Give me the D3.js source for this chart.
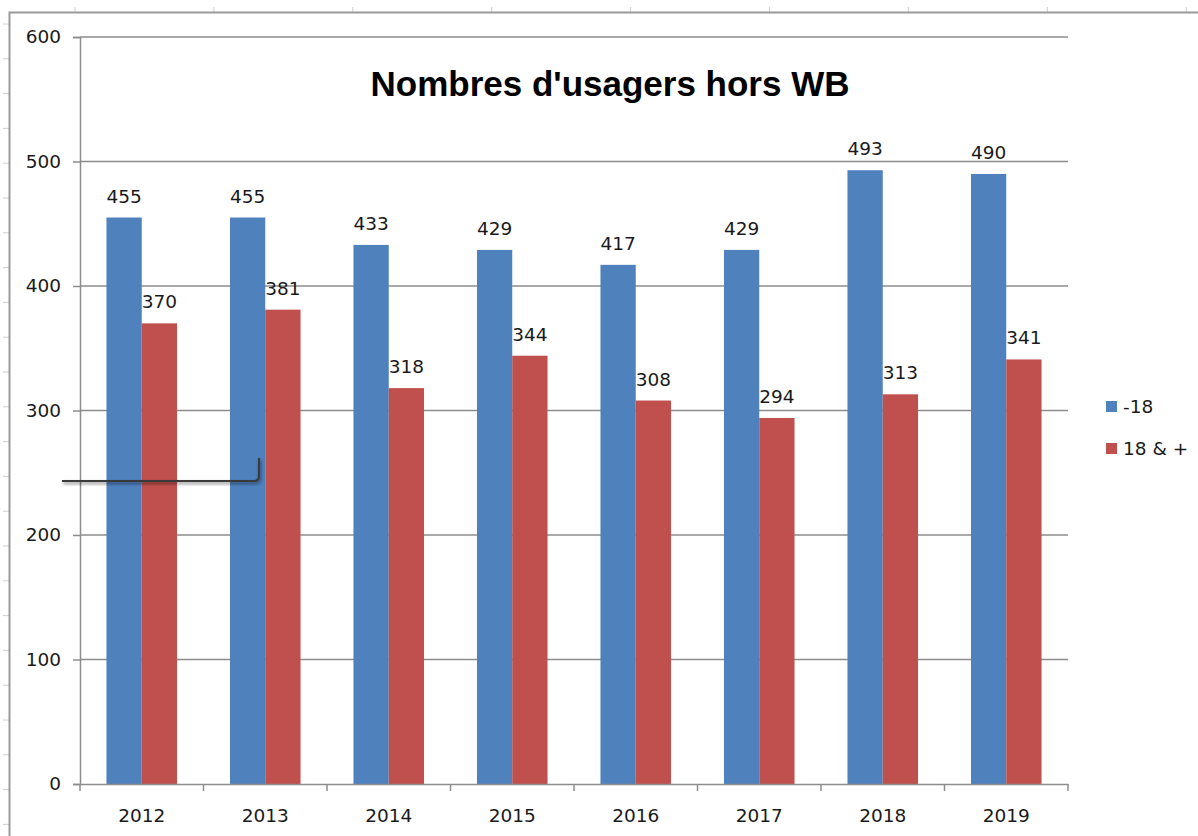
<!DOCTYPE html>
<html>
<head>
<meta charset="utf-8">
<script src="https://cdn.jsdelivr.net/npm/d3@7"></script>
<style>
  body { margin: 0; background: #fff; }
  svg { display: block; }
  .lbl { font-family: 'DejaVu Sans', sans-serif; font-size: 18.5px; fill: #1a1a1a; }
</style>
</head>
<body>
<svg id="chart"></svg>
<script>
const years = ['2012', '2013', '2014', '2015', '2016', '2017', '2018', '2019'];
const seriesNames = ['-18', '18 & +'];
const under18 = [455, 455, 433, 429, 417, 429, 493, 490];
const adults = [370, 381, 318, 344, 308, 294, 313, 341];
const yTicks = [0, 100, 200, 300, 400, 500, 600];
const colors = ['#4f81bd', '#c0504d'];

const W = 1198, H = 836;
const plot = { left: 80, right: 1068, top: 37, bottom: 784 };

const svg = d3.select('#chart').attr('width', W).attr('height', H);

// sheet frame + faint row/column marks
const frame = svg.append('g');
frame.selectAll('.colmark')
  .data(d3.range(75, W, 138.9))
  .enter().append('line')
  .attr('x1', d => d).attr('x2', d => d)
  .attr('y1', 7).attr('y2', 12)
  .attr('stroke', '#d0d0d0');
frame.selectAll('.rowmark')
  .data(d3.range(24, H, 34.8))
  .enter().append('line')
  .attr('x1', 3).attr('x2', 9)
  .attr('y1', d => d).attr('y2', d => d)
  .attr('stroke', '#d0d0d0');
frame.append('path')
  .attr('d', `M9.5,${H} V12.5 H${W}`)
  .attr('fill', 'none')
  .attr('stroke', '#9a9a9a')
  .attr('stroke-width', 2);

const x0 = d3.scaleBand()
  .domain(years)
  .range([plot.left, plot.right]);

const barW = x0.bandwidth() / 3.5;
const x1 = d3.scaleBand()
  .domain(seriesNames)
  .range([barW * 0.75, x0.bandwidth() - barW * 0.75]);

const y = d3.scaleLinear()
  .domain([0, 600])
  .range([plot.bottom, plot.top]);

// gridlines
svg.append('g')
  .selectAll('line')
  .data(yTicks.filter(d => d > 0))
  .enter().append('line')
  .attr('x1', plot.left).attr('x2', plot.right)
  .attr('y1', d => y(d)).attr('y2', d => y(d))
  .attr('stroke', '#8c8c8c')
  .attr('stroke-width', 1.5);

// Y axis
const yAxis = svg.append('g')
  .attr('transform', `translate(${plot.left},0)`)
  .call(d3.axisLeft(y).tickValues(yTicks).tickSize(7).tickPadding(12));
yAxis.selectAll('.domain, .tick line').attr('stroke', '#8c8c8c').attr('stroke-width', 1.5);
yAxis.selectAll('text').attr('class', 'lbl');

// bars
const data = years.map((yr, i) => ({ year: yr, values: [under18[i], adults[i]] }));
const groups = svg.append('g')
  .selectAll('g')
  .data(data)
  .enter().append('g')
  .attr('transform', d => `translate(${x0(d.year)},0)`);

groups.selectAll('rect')
  .data(d => d.values.map((v, k) => ({ key: seriesNames[k], v, k })))
  .enter().append('rect')
  .attr('x', d => x1(d.key))
  .attr('y', d => y(d.v))
  .attr('width', x1.bandwidth())
  .attr('height', d => y(0) - y(d.v))
  .attr('fill', d => colors[d.k]);

groups.selectAll('text')
  .data(d => d.values.map((v, k) => ({ key: seriesNames[k], v, k })))
  .enter().append('text')
  .attr('class', 'lbl')
  .attr('x', d => x1(d.key) + x1.bandwidth() / 2)
  .attr('y', d => y(d.v) - 15)
  .attr('text-anchor', 'middle')
  .text(d => d.v);

// X axis
const xAxis = svg.append('g')
  .attr('transform', `translate(0,${plot.bottom})`)
  .call(d3.axisBottom(x0).tickSize(0).tickPadding(25));
xAxis.select('.domain').attr('stroke', '#8c8c8c').attr('stroke-width', 1.5);
xAxis.selectAll('text').attr('class', 'lbl');
xAxis.selectAll('.sep')
  .data(years.map(d => x0(d)).concat([plot.right]))
  .enter().append('line')
  .attr('x1', d => d).attr('x2', d => d)
  .attr('y1', 0).attr('y2', 7)
  .attr('stroke', '#8c8c8c')
  .attr('stroke-width', 1.5);

// title
svg.append('text')
  .attr('x', 610)
  .attr('y', 96)
  .attr('text-anchor', 'middle')
  .style('font-family', "'Liberation Sans', Arial, sans-serif")
  .style('font-weight', 'bold')
  .style('font-size', '35px')
  .text("Nombres d'usagers hors WB");

// legend
const legend = svg.append('g')
  .selectAll('g')
  .data(seriesNames)
  .enter().append('g')
  .attr('transform', (d, i) => `translate(1106,${401 + i * 42})`);
legend.append('rect')
  .attr('width', 11).attr('height', 11)
  .attr('fill', (d, i) => colors[i]);
legend.append('text')
  .attr('class', 'lbl')
  .attr('x', 17)
  .attr('y', 12)
  .text(d => d);

// stray connector line drawn over the chart
const defs = svg.append('defs');
defs.append('filter').attr('id', 'blur')
  .append('feGaussianBlur').attr('stdDeviation', 1.5);
const connector = 'M62,481 H254 Q259,481 259,476 V458';
svg.append('path')
  .attr('d', connector)
  .attr('transform', 'translate(1,2)')
  .attr('fill', 'none')
  .attr('stroke', '#000')
  .attr('stroke-opacity', 0.35)
  .attr('stroke-width', 3)
  .attr('filter', 'url(#blur)');
svg.append('path')
  .attr('d', connector)
  .attr('fill', 'none')
  .attr('stroke', '#3a3a3a')
  .attr('stroke-width', 2);
</script>
</body>
</html>
